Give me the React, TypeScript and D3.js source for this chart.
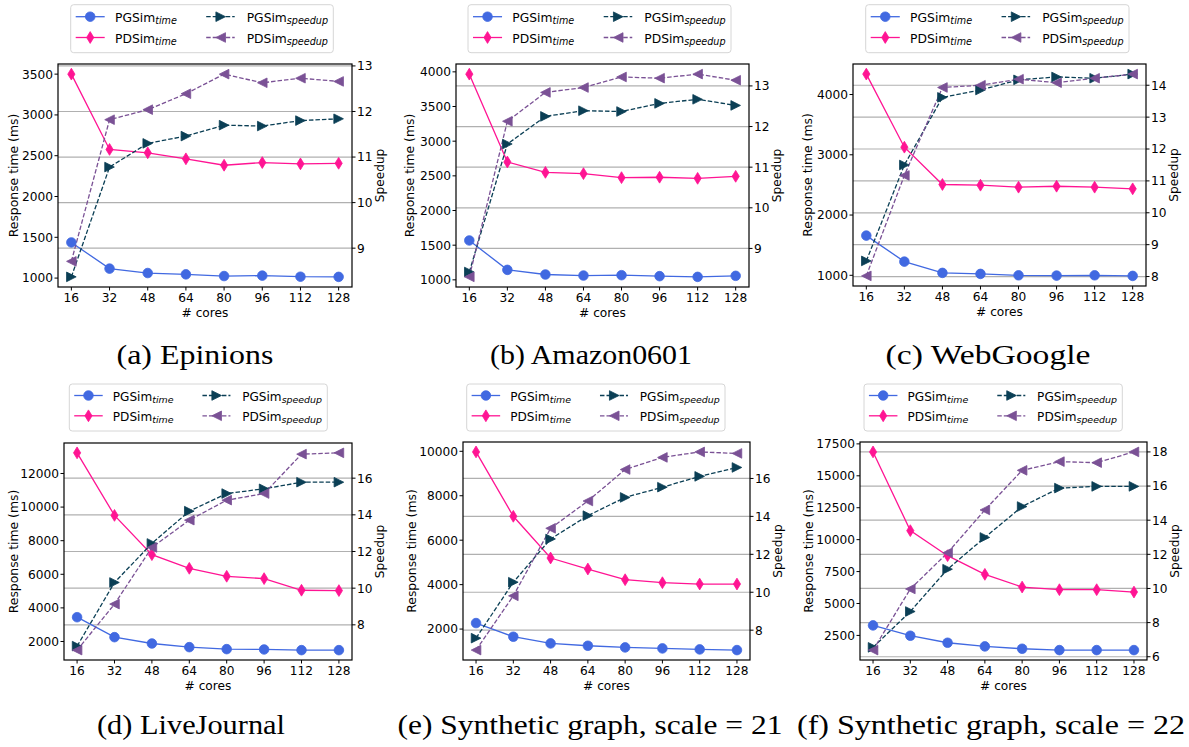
import React from "react";
import * as d3 from "d3";

// ---------- data ----------
const cores = [16, 32, 48, 64, 80, 96, 112, 128];

const epinionsPGTime = [1437, 1116, 1062, 1046, 1025, 1030, 1017, 1015];
const epinionsPDTime = [3500, 2577, 2536, 2462, 2383, 2416, 2400, 2407];
const epinionsPGSpeedup = [8.37, 10.78, 11.3, 11.46, 11.7, 11.68, 11.8, 11.84];
const epinionsPDSpeedup = [8.71, 11.82, 12.04, 12.39, 12.82, 12.63, 12.73, 12.66];

const amazonPGTime = [1568, 1144, 1077, 1062, 1067, 1053, 1043, 1058];
const amazonPDTime = [3967, 2700, 2550, 2532, 2474, 2480, 2464, 2493];
const amazonPGSpeedup = [8.42, 11.57, 12.25, 12.39, 12.37, 12.57, 12.67, 12.52];
const amazonPDSpeedup = [8.3, 12.13, 12.84, 12.96, 13.22, 13.19, 13.29, 13.14];

const webGooglePGTime = [1659, 1227, 1040, 1023, 1000, 995, 1000, 990];
const webGooglePDTime = [4339, 3126, 2507, 2495, 2462, 2478, 2462, 2435];
const webGooglePGSpeedup = [8.49, 11.5, 13.62, 13.85, 14.17, 14.26, 14.22, 14.35];
const webGooglePDSpeedup = [8.02, 11.17, 13.93, 14.0, 14.19, 14.08, 14.22, 14.35];

const liveJournalPGTime = [3446, 2257, 1881, 1663, 1545, 1525, 1485, 1485];
const liveJournalPDTime = [13228, 9505, 7168, 6356, 5881, 5743, 5050, 5030];
const liveJournalPGSpeedup = [6.84, 10.31, 12.44, 14.2, 15.16, 15.42, 15.78, 15.78];
const liveJournalPDSpeedup = [6.62, 9.13, 12.22, 13.71, 14.8, 15.16, 17.31, 17.38];

const syn21PGTime = [2270, 1655, 1354, 1249, 1174, 1129, 1084, 1054];
const syn21PDTime = [9973, 7075, 5198, 4703, 4222, 4087, 4027, 4027];
const syn21PGSpeedup = [7.58, 10.53, 12.81, 14.04, 15.0, 15.54, 16.11, 16.58];
const syn21PDSpeedup = [6.95, 9.81, 13.37, 14.81, 16.47, 17.11, 17.4, 17.32];

const syn22PGTime = [3284, 2474, 1925, 1638, 1455, 1350, 1350, 1350];
const syn22PDTime = [16871, 10705, 8745, 7282, 6289, 6080, 6080, 5897];
const syn22PGSpeedup = [6.55, 8.65, 11.13, 12.99, 14.8, 15.88, 15.98, 15.98];
const syn22PDSpeedup = [6.39, 9.97, 12.09, 14.6, 16.92, 17.43, 17.37, 18.0];

const titles = [
  "(a) Epinions",
  "(b) Amazon0601",
  "(c) WebGoogle",
  "(d) LiveJournal",
  "(e) Synthetic graph, scale = 21",
  "(f) Synthetic graph, scale = 22",
];

const leftTicks = [
  [1000, 1500, 2000, 2500, 3000, 3500],
  [1000, 1500, 2000, 2500, 3000, 3500, 4000],
  [1000, 2000, 3000, 4000],
  [2000, 4000, 6000, 8000, 10000, 12000],
  [2000, 4000, 6000, 8000, 10000],
  [2500, 5000, 7500, 10000, 12500, 15000, 17500],
];
const rightTicks = [
  [9, 10, 11, 12, 13],
  [9, 10, 11, 12, 13],
  [8, 9, 10, 11, 12, 13, 14],
  [8, 10, 12, 14, 16],
  [8, 10, 12, 14, 16],
  [6, 8, 10, 12, 14, 16, 18],
];

const seriesData = [
  [epinionsPGTime, epinionsPDTime, epinionsPGSpeedup, epinionsPDSpeedup],
  [amazonPGTime, amazonPDTime, amazonPGSpeedup, amazonPDSpeedup],
  [webGooglePGTime, webGooglePDTime, webGooglePGSpeedup, webGooglePDSpeedup],
  [liveJournalPGTime, liveJournalPDTime, liveJournalPGSpeedup, liveJournalPDSpeedup],
  [syn21PGTime, syn21PDTime, syn21PGSpeedup, syn21PDSpeedup],
  [syn22PGTime, syn22PDTime, syn22PGSpeedup, syn22PDSpeedup],
];

// ---------- layout ----------
const layout = [
  { L: 58, R: 352, T: 64, B: 287, yl: 14, lx: 70.7, ly: 4.7, lw: 262.6, lh: 48, r1: 12, r2: 32.8, tx: 195, ty: 364, tw: 157 },
  { L: 456, R: 749, T: 64, B: 287, yl: 410, lx: 468, ly: 4.7, lw: 263, lh: 48, r1: 12, r2: 32.8, tx: 591, ty: 364, tw: 202 },
  { L: 853, R: 1146, T: 64, B: 286, yl: 808, lx: 865.7, ly: 4.7, lw: 263.3, lh: 48, r1: 12, r2: 32.8, tx: 988, ty: 364, tw: 205 },
  { L: 64, R: 352, T: 443, B: 660, yl: 14, lx: 69.3, ly: 384, lw: 258, lh: 47, r1: 11.5, r2: 31.8, tx: 191, ty: 734, tw: 188 },
  { L: 463, R: 750, T: 442, B: 660, yl: 412, lx: 466.7, ly: 384, lw: 258.3, lh: 47, r1: 11.5, r2: 31.8, tx: 590, ty: 734, tw: 385 },
  { L: 860, R: 1147, T: 442, B: 660, yl: 809, lx: 864, ly: 384, lw: 258.3, lh: 47, r1: 11.5, r2: 31.8, tx: 991, ty: 734, tw: 388 },
];

const COLORS = ["#4169E1", "#FF1493", "#0B3F55", "#7A5195"];
const SANS = "DejaVu Sans, Verdana, sans-serif";
const SERIF = "Liberation Serif, Times New Roman, serif";

const pad = (ext: number[]) => {
  const [a, b] = ext;
  const m = (b - a) * 0.05;
  return [a - m, b + m];
};

function Marker({ kind, x, y, color }: { kind: string; x: number; y: number; color: string }) {
  if (kind === "circle") return <circle cx={x} cy={y} r={4.8} fill={color} stroke={color} strokeWidth={0.8} />;
  if (kind === "diamond") {
    const w = 3.6, h = 5.9;
    return <path d={`M${x},${y - h}L${x + w},${y}L${x},${y + h}L${x - w},${y}Z`} fill={color} stroke={color} strokeWidth={0.8} />;
  }
  const s = 4.8;
  if (kind === "right")
    return <path d={`M${x + s},${y}L${x - s},${y - s}L${x - s},${y + s}Z`} fill={color} stroke={color} strokeWidth={0.8} />;
  return <path d={`M${x - s},${y}L${x + s},${y - s}L${x + s},${y + s}Z`} fill={color} stroke={color} strokeWidth={0.8} />;
}

const kinds = ["circle", "diamond", "right", "left"];
const DASH = "4.5,2";

function Legend({ p }: { p: any }) {
  const { lx, ly, lw, lh, r1, r2 } = p;
  const f = lw / 262.6;
  const entries = [
    { k: 0, name: "PGSim", sub: "time", col: 0, row: r1 },
    { k: 1, name: "PDSim", sub: "time", col: 0, row: r2 },
    { k: 2, name: "PGSim", sub: "speedup", col: 1, row: r1 },
    { k: 3, name: "PDSim", sub: "speedup", col: 1, row: r2 },
  ];
  return (
    <g>
      <rect x={lx} y={ly} width={lw} height={lh} rx={3} fill="white" stroke="#d6d6d6" strokeWidth={1} />
      {entries.map((e) => {
        const hx0 = lx + (e.col === 0 ? 5 : 135.5) * f;
        const hx1 = lx + (e.col === 0 ? 34 : 164) * f;
        const mx = lx + (e.col === 0 ? 19.5 : 150) * f;
        const tx = lx + (e.col === 0 ? 44.3 : 176) * f;
        const y = ly + e.row;
        return (
          <g key={e.k}>
            <line x1={hx0} x2={hx1} y1={y} y2={y} stroke={COLORS[e.k]} strokeWidth={1.3} strokeDasharray={e.k >= 2 ? DASH : undefined} />
            <Marker kind={kinds[e.k]} x={mx} y={y} color={COLORS[e.k]} />
            <text x={tx} y={y + 5.2} fontFamily={SANS} fontSize={12.3 * f} fill="#000">
              {e.name}
              <tspan fontStyle="italic" fontSize={9.6 * f} dy={2.2}>{e.sub}</tspan>
            </text>
          </g>
        );
      })}
    </g>
  );
}

function Panel({ i }: { i: number }) {
  const p = layout[i];
  const [pgT, pdT, pgS, pdS] = seriesData[i];
  const x = d3.scaleLinear().domain(pad(d3.extent(cores) as number[])).range([p.L, p.R]);
  const yL = d3.scaleLinear().domain(pad(d3.extent([...pgT, ...pdT]) as number[])).range([p.B, p.T]);
  const yR = d3.scaleLinear().domain(pad(d3.extent([...pgS, ...pdS]) as number[])).range([p.B, p.T]);
  const series = [
    { vals: pgT, y: yL },
    { vals: pdT, y: yL },
    { vals: pgS, y: yR },
    { vals: pdS, y: yR },
  ];
  const lineGen = (vals: number[], y: any) =>
    d3.line<number>().x((_, j) => x(cores[j])).y((v) => y(v))(vals) as string;
  const clipId = `clip${i}`;
  return (
    <g>
      <defs>
        <clipPath id={clipId}>
          <rect x={p.L} y={p.T} width={p.R - p.L} height={p.B - p.T} />
        </clipPath>
      </defs>
      {rightTicks[i].map((t) => (
        <line key={t} x1={p.L} x2={p.R} y1={yR(t)} y2={yR(t)} stroke="#b0b0b0" strokeWidth={1.2} />
      ))}
      <g clipPath={`url(#${clipId})`}>
        {series.map((s, k) => (
          <path key={k} d={lineGen(s.vals, s.y)} fill="none" stroke={COLORS[k]} strokeWidth={1.3} strokeDasharray={k >= 2 ? DASH : undefined} />
        ))}
      </g>
      {series.map((s, k) =>
        s.vals.map((v, j) => <Marker key={`${k}-${j}`} kind={kinds[k]} x={x(cores[j])} y={s.y(v)} color={COLORS[k]} />)
      )}
      <rect x={p.L} y={p.T} width={p.R - p.L} height={p.B - p.T} fill="none" stroke="#000" strokeWidth={1.2} />
      {leftTicks[i].map((t) => (
        <g key={t}>
          <line x1={p.L - 3.5} x2={p.L} y1={yL(t)} y2={yL(t)} stroke="#000" strokeWidth={1} />
          <text x={p.L - 5} y={yL(t) + 4.4} textAnchor="end" fontFamily={SANS} fontSize={12.2}>{t}</text>
        </g>
      ))}
      {rightTicks[i].map((t) => (
        <g key={t}>
          <line x1={p.R} x2={p.R + 3.5} y1={yR(t)} y2={yR(t)} stroke="#000" strokeWidth={1} />
          <text x={p.R + 5} y={yR(t) + 4.4} textAnchor="start" fontFamily={SANS} fontSize={12.2}>{t}</text>
        </g>
      ))}
      {cores.map((c) => (
        <g key={c}>
          <line x1={x(c)} x2={x(c)} y1={p.B} y2={p.B + 3.5} stroke="#000" strokeWidth={1} />
          <text x={x(c)} y={p.B + 14.5} textAnchor="middle" fontFamily={SANS} fontSize={12.2}>{c}</text>
        </g>
      ))}
      <text x={(p.L + p.R) / 2} y={p.B + 30} textAnchor="middle" fontFamily={SANS} fontSize={12.2}># cores</text>
      <text transform={`translate(${p.yl + 4.3},${(p.T + p.B) / 2}) rotate(-90)`} textAnchor="middle" fontFamily={SANS} fontSize={12.4}>
        Response time (ms)
      </text>
      <text transform={`translate(${p.R + 28 + 4.3},${(p.T + p.B) / 2}) rotate(-90)`} textAnchor="middle" fontFamily={SANS} fontSize={12.2}>
        Speedup
      </text>
      <Legend p={p} />
      <text x={p.tx} y={p.ty} textAnchor="middle" fontFamily={SERIF} fontSize={27} textLength={p.tw} lengthAdjust="spacingAndGlyphs" fill="#000">
        {titles[i]}
      </text>
    </g>
  );
}

export default function App() {
  return (
    <svg width={1189} height={747} style={{ position: "absolute", left: 0, top: 0, background: "white" }}>
      <rect width={1189} height={747} fill="white" />
      {layout.map((_, i) => (
        <Panel key={i} i={i} />
      ))}
    </svg>
  );
}
